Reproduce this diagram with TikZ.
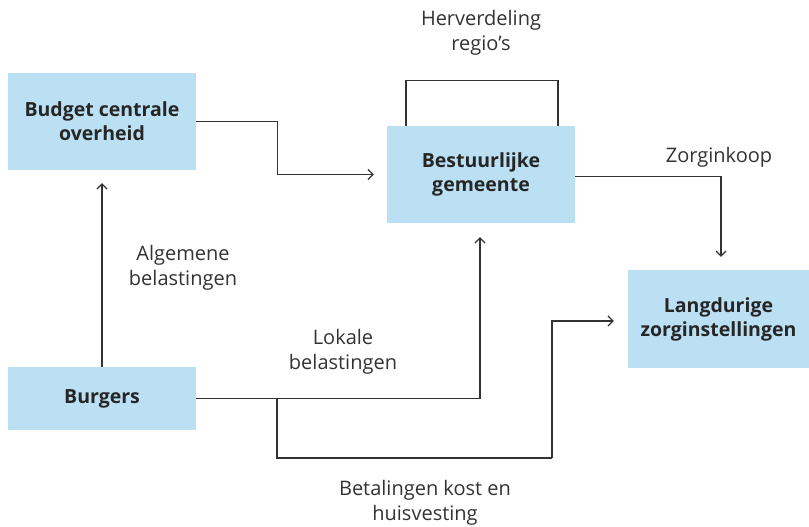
\documentclass[tikz,border=0pt]{standalone}
\usepackage{fontspec}
\setmainfont{Open Sans}
\usepackage{xcolor}
\usepackage{tikz}
\usetikzlibrary{arrows.meta,positioning}
\definecolor{boxblue}{RGB}{187, 224, 243}
\definecolor{inkgray}{RGB}{51, 51, 51}
\tikzset{
 orgbox/.style={
 rectangle,
 fill=boxblue,
 align=center,
 minimum width=188pt,
 minimum height=97pt,
 inner sep=0pt,
 text=black!85,
 font=\fontsize{19.5}{24}\selectfont\bfseries
 },
 flowlabel/.style={
 align=center,
 inner sep=0pt,
 text=black!80,
 font=\fontsize{20}{25}\selectfont
 },
 flowarrow/.style={-{Straight Barb[length=5pt,width=10pt]}, line width=1.2pt, draw=inkgray},
 flowline/.style={line width=1.2pt, draw=inkgray}
}

\begin{document}
\begin{tikzpicture}[x=1pt, y=1pt]
 \useasboundingbox (0,0) rectangle (809,-527);
 \node[orgbox] (budget) at (102,-121.5) {Budget centrale\\overheid};
 \node[orgbox] (bestuur) at (481,-174.5) {Bestuurlijke\\gemeente};
 \node[orgbox, minimum width=181pt, minimum height=98pt] (lang) at (718.5,-319) {Langdurige\\zorginstellingen};
 \node[orgbox, minimum height=63pt] (burgers) at (102,-398.5) {Burgers};

 \coordinate (split) at (277,-398.5);
 \coordinate (dip) at (552,-458);

 \node[flowlabel] (herv) at (481,-33) {Herverdeling\\regio’s};
 \node[flowlabel] (inkoop) at (719,-157) {Zorginkoop};
 \node[flowlabel] (alg) at (183,-268) {Algemene\\belastingen};
 \node[flowlabel] (lokaal) at (343,-352) {Lokale\\belastingen};
 \node[flowlabel] (betaal) at (425,-503) {Betalingen kost en\\huisvesting};

 \draw[flowarrow, shorten >=13pt] (burgers.north) -- (budget.south);
 \draw[flowarrow, shorten >=13pt] (budget.east) -- ++(81,0) |- (bestuur.west);
 \draw[flowarrow, shorten >=13pt] ([yshift=-2pt]bestuur.east) -| ([xshift=2.5pt]lang.north);
 \draw[flowline] ([xshift=-75pt]bestuur.north) -- ++(0,45) -| ([xshift=77pt]bestuur.north);
 \draw[flowarrow, shorten >=14pt] (burgers.east) -| ([xshift=-1pt]bestuur.south);
 \draw[flowline] (split) |- (dip);
 \draw[flowarrow, shorten >=14pt] (dip) |- ([yshift=-2pt]lang.west);
\end{tikzpicture}
\end{document}
